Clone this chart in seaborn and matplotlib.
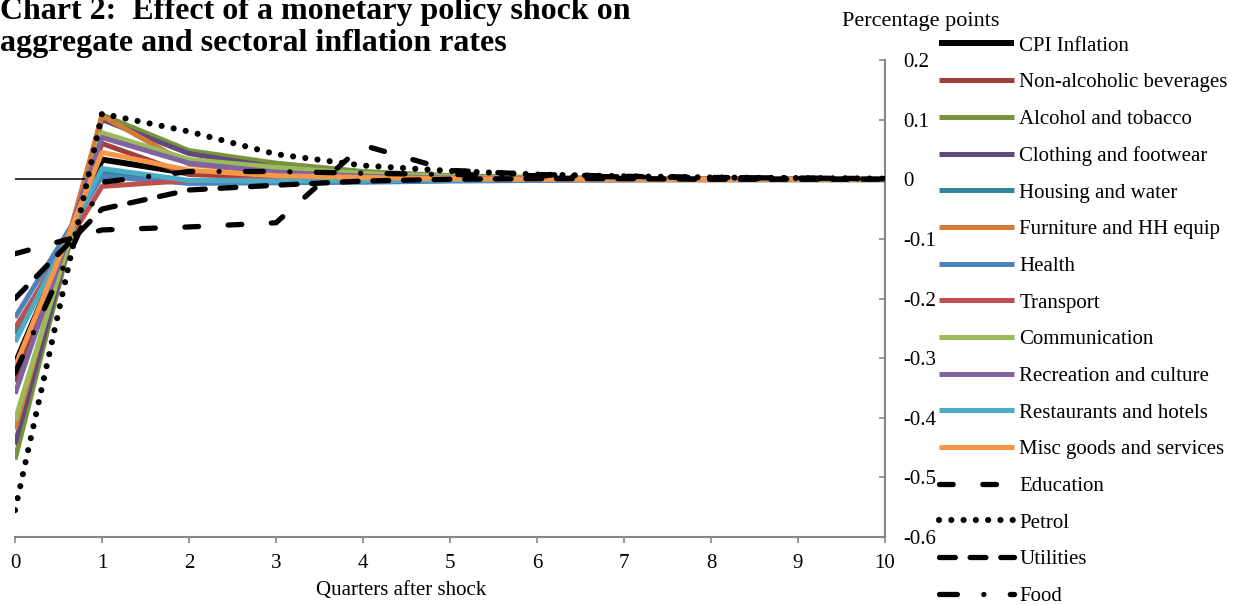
import numpy as np
import pandas as pd
import matplotlib
matplotlib.use("Agg")
import matplotlib.pyplot as plt
import seaborn as sns

# ---------------- data ----------------
quarters = [0, 1, 2, 3, 4, 5, 6, 7, 8, 9, 10]

cpi         = [-0.310, 0.033, 0.010, 0.005, 0.002, 0.001, 0.000, 0.000, 0.000, 0.000, 0.000]
non_alc     = [-0.340, 0.060, 0.008, 0.004, 0.002, 0.001, 0.000, 0.000, 0.000, 0.000, 0.000]
alcohol     = [-0.470, 0.108, 0.048, 0.027, 0.013, 0.006, 0.003, 0.001, 0.000, 0.000, 0.000]
clothing    = [-0.445, 0.100, 0.043, 0.020, 0.010, 0.005, 0.002, 0.001, 0.000, 0.000, 0.000]
housing     = [-0.260, 0.012, -0.003, -0.003, -0.002, -0.001, 0.000, 0.000, 0.000, 0.000, 0.000]
furniture   = [-0.420, 0.106, 0.025, 0.012, 0.005, 0.002, 0.001, 0.000, 0.000, 0.000, 0.000]
health      = [-0.232, 0.005, -0.007, -0.006, -0.005, -0.003, -0.002, -0.001, 0.000, 0.000, 0.000]
transport   = [-0.250, -0.012, -0.002, 0.000, 0.000, 0.000, 0.000, 0.000, 0.000, 0.000, 0.000]
communic    = [-0.405, 0.078, 0.033, 0.020, 0.010, 0.005, 0.002, 0.001, 0.000, 0.000, 0.000]
recreation  = [-0.360, 0.070, 0.027, 0.012, 0.005, 0.002, 0.001, 0.000, 0.000, 0.000, 0.000]
restaurants = [-0.273, 0.018, -0.002, -0.003, -0.002, -0.001, 0.000, 0.000, 0.000, 0.000, 0.000]
misc        = [-0.315, 0.045, 0.015, 0.006, 0.003, 0.001, 0.000, 0.000, 0.000, 0.000, 0.000]
education   = [-0.125, -0.085, -0.080, -0.073, 0.057, 0.015, 0.008, 0.005, 0.003, 0.002, 0.001]
petrol      = [-0.555, 0.110, 0.080, 0.042, 0.023, 0.014, 0.008, 0.005, 0.003, 0.002, 0.001]
utilities   = [-0.200, -0.050, -0.018, -0.010, -0.003, 0.000, 0.001, 0.001, 0.000, 0.000, 0.000]
food        = [-0.325, -0.005, 0.013, 0.013, 0.010, 0.008, 0.006, 0.004, 0.003, 0.002, 0.001]

series_names = ["CPI Inflation", "Non-alcoholic beverages", "Alcohol and tobacco",
                "Clothing and footwear", "Housing and water", "Furniture and HH equip",
                "Health", "Transport", "Communication", "Recreation and culture",
                "Restaurants and hotels", "Misc goods and services", "Education",
                "Petrol", "Utilities", "Food"]
series_values = [cpi, non_alc, alcohol, clothing, housing, furniture, health, transport,
                 communic, recreation, restaurants, misc, education, petrol, utilities, food]

ytick_values = [0.2, 0.1, 0, -0.1, -0.2, -0.3, -0.4, -0.5, -0.6]
ytick_labels = ["0.2", "0.1", "0", "-0.1", "-0.2", "-0.3", "-0.4", "-0.5", "-0.6"]
xtick_values = quarters
xtick_labels = [str(q) for q in quarters]

# ---------------- styles ----------------
styles = {
    "CPI Inflation":           dict(color="#000000", lw=4.3, ls="-"),
    "Non-alcoholic beverages": dict(color="#A23E3B", lw=3.6, ls="-"),
    "Alcohol and tobacco":     dict(color="#77933C", lw=3.6, ls="-"),
    "Clothing and footwear":   dict(color="#604A7B", lw=3.6, ls="-"),
    "Housing and water":       dict(color="#31859C", lw=3.6, ls="-"),
    "Furniture and HH equip":  dict(color="#D37A37", lw=3.6, ls="-"),
    "Health":                  dict(color="#4F81BD", lw=3.6, ls="-"),
    "Transport":               dict(color="#C0504D", lw=3.6, ls="-"),
    "Communication":           dict(color="#9BBB59", lw=3.6, ls="-"),
    "Recreation and culture":  dict(color="#8064A2", lw=3.6, ls="-"),
    "Restaurants and hotels":  dict(color="#4BACC6", lw=3.6, ls="-"),
    "Misc goods and services": dict(color="#F79646", lw=3.6, ls="-"),
    "Education":               dict(color="#000000", lw=3.8, ls=(0, (2.6, 5.6))),
    "Petrol":                  dict(color="#000000", lw=4.4, ls=(0, (0.01, 2.0))),
    "Utilities":               dict(color="#000000", lw=3.8, ls=(0, (3.0, 2.8))),
    "Food":                    dict(color="#000000", lw=3.8, ls=(0, (3.4, 5.0, 0.01, 5.0))),
}

sns.set_theme(style="white")
plt.rcParams["font.family"] = ["Liberation Serif", "DejaVu Serif"]
plt.rcParams["axes.unicode_minus"] = False
plt.rcParams["text.color"] = "black"
plt.rcParams["axes.labelcolor"] = "black"

W, H = 1235, 605
fig = plt.figure(figsize=(W / 100, H / 100), dpi=100)
ax = fig.add_axes([15 / W, 1 - 537 / H, 870 / W, 477 / H])

handles = []
for i, (name, vals) in enumerate(zip(series_names, series_values)):
    st = styles[name]
    df = pd.DataFrame({"q": quarters, "v": vals})
    sns.lineplot(data=df, x="q", y="v", ax=ax, color=st["color"], linewidth=st["lw"],
                 linestyle=st["ls"], legend=False, dash_capstyle="round",
                 solid_joinstyle="round", solid_capstyle="butt", zorder=3 + i * 0.01)
    line = ax.get_lines()[-1]
    line.set_label(name)
    handles.append(line)

ax.axhline(0, color="black", lw=1.1, zorder=3.05)

ax.set_xlim(0, 10)
ax.set_ylim(-0.6, 0.2)
ax.set_xticks(xtick_values)
ax.set_xticklabels(xtick_labels)
ax.set_yticks(ytick_values)
ax.set_yticklabels(ytick_labels)
ax.yaxis.tick_right()
ax.set_xlabel("Quarters after shock", fontsize=15, color="black")
ax.xaxis.set_label_coords((401 - 15) / 870, -(590 - 537) / 477)
ax.xaxis.label.set_va("center")
ax.set_ylabel("")

for side in ["left", "top"]:
    ax.spines[side].set_visible(False)
for side in ["right", "bottom"]:
    ax.spines[side].set_visible(True)
    ax.spines[side].set_color("#868686")
    ax.spines[side].set_linewidth(1.5)

ax.tick_params(axis="y", which="both", direction="in", length=4, width=1.2,
               color="#868686", labelsize=15, pad=13, labelcolor="black",
               left=False, right=True)
ax.tick_params(axis="x", which="both", direction="out", length=4, width=1.2,
               color="#868686", labelsize=15, pad=8, labelcolor="black", bottom=True)
ax.grid(False)
ax.set_facecolor("white")

fig.legend(handles, series_names, loc="upper left",
           bbox_to_anchor=(939 / W, 1 - 36 / H), frameon=False, borderpad=0,
           borderaxespad=0, handlelength=3.6, handletextpad=0.25,
           labelspacing=0.82, fontsize=15)

fig.text(842 / W, 1 - 26 / H, "Percentage points", fontsize=16, va="baseline",
         ha="left", color="black")

fig.text(0, 1 - 19 / H, "Chart 2:  Effect of a monetary policy shock on",
         fontsize=23, fontweight="bold", va="baseline", ha="left", color="black")
fig.text(0, 1 - 51 / H, "aggregate and sectoral inflation rates",
         fontsize=23, fontweight="bold", va="baseline", ha="left", color="black")

fig.savefig("out.png", dpi=100, facecolor="white")
